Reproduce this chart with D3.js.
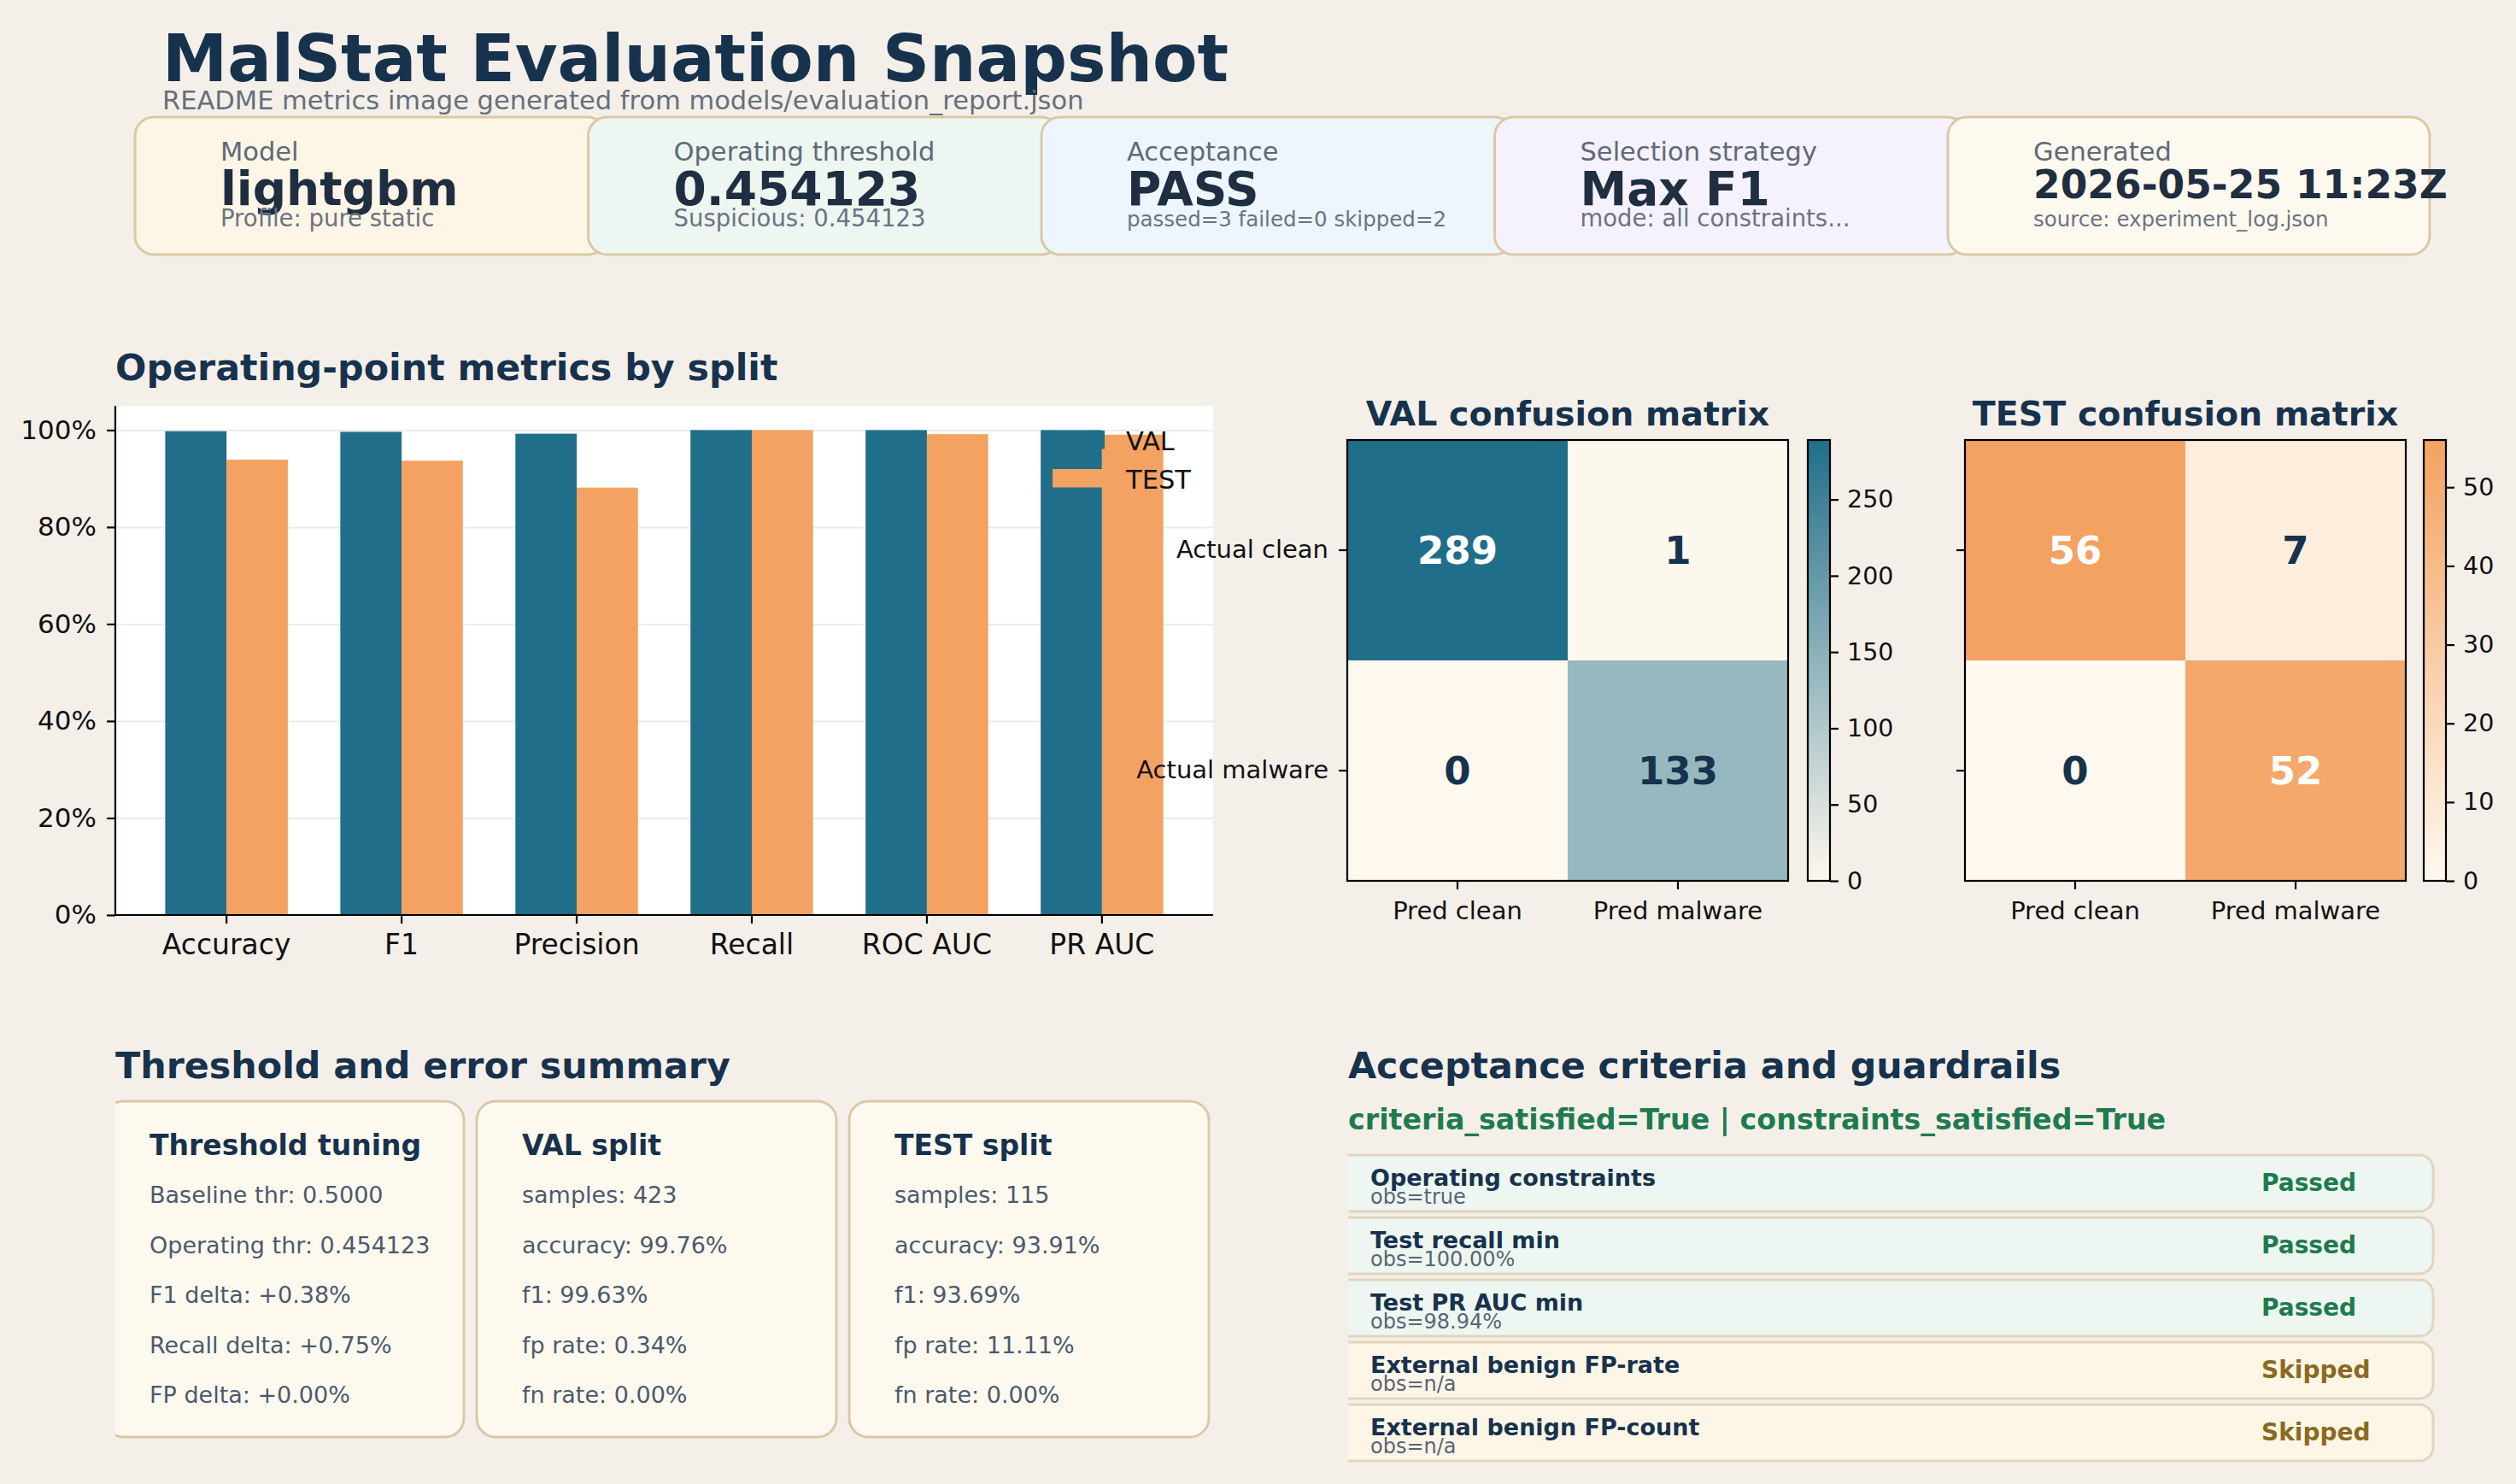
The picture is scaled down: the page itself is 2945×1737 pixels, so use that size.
<!DOCTYPE html>
<html>
<head>
<meta charset="utf-8">
<script src="https://cdn.jsdelivr.net/npm/d3@7"></script>
<style>
	body { margin: 0; background: #f4f0e9; }
	svg { display: block; font-family: "DejaVu Sans", sans-serif; }
</style>
</head>
<body>
<svg id="chart"></svg>
<script>
const metricNames = ['Accuracy', 'F1', 'Precision', 'Recall', 'ROC AUC', 'PR AUC'];
const valScores = [0.9976, 0.9963, 0.9925, 1.0, 1.0, 1.0];
const testScores = [0.9391, 0.9369, 0.8814, 1.0, 0.9915, 0.9905];
const pctTicks = [0, 0.2, 0.4, 0.6, 0.8, 1.0];

const matrixRows = ['Actual clean', 'Actual malware'];
const matrixCols = ['Pred clean', 'Pred malware'];
const valMatrix = [[289, 1], [0, 133]];
const testMatrix = [[56, 7], [0, 52]];
const valBarTicks = [0, 50, 100, 150, 200, 250];
const testBarTicks = [0, 10, 20, 30, 40, 50];

const kpiLabels = ['Model', 'Operating threshold', 'Acceptance', 'Selection strategy', 'Generated'];
const kpiValues = ['lightgbm', '0.454123', 'PASS', 'Max F1', '2026-05-25 11:23Z'];
const kpiSubs = ['Profile: pure static', 'Suspicious: 0.454123', 'passed=3 failed=0 skipped=2',
	'mode: all constraints...', 'source: experiment_log.json'];
const kpiFills = ['#fdf5e6', '#edf6f0', '#edf5fd', '#f5f2fd', '#fdf9ef'];

const summaryTitles = ['Threshold tuning', 'VAL split', 'TEST split'];
const summaryLines = [
	['Baseline thr: 0.5000', 'Operating thr: 0.454123', 'F1 delta: +0.38%', 'Recall delta: +0.75%', 'FP delta: +0.00%'],
	['samples: 423', 'accuracy: 99.76%', 'f1: 99.63%', 'fp rate: 0.34%', 'fn rate: 0.00%'],
	['samples: 115', 'accuracy: 93.91%', 'f1: 93.69%', 'fp rate: 11.11%', 'fn rate: 0.00%']
];

const criteriaNames = ['Operating constraints', 'Test recall min', 'Test PR AUC min',
	'External benign FP-rate', 'External benign FP-count'];
const criteriaObs = ['obs=true', 'obs=100.00%', 'obs=98.94%', 'obs=n/a', 'obs=n/a'];
const criteriaStatus = ['Passed', 'Passed', 'Passed', 'Skipped', 'Skipped'];

// --- palette ---
const NAVY = '#17324d';
const TEAL = '#206e8a';
const ORANGE = '#f3a261';
const CREAM = '#fef8ee';
const BORDER = '#d9c9a6';

const W = 2945, H = 1737;
const svg = d3.select('#chart').attr('width', W).attr('height', H);
svg.append('rect').attr('width', W).attr('height', H).attr('fill', '#f4f0e9');
const defs = svg.append('defs');

// header
svg.append('text').attr('x', 190).attr('y', 95)
	.attr('font-size', 76.5).attr('font-weight', 'bold').attr('fill', NAVY)
	.text('MalStat Evaluation Snapshot');
svg.append('text').attr('x', 190).attr('y', 128)
	.attr('font-size', 30.5).attr('fill', '#676f7c')
	.text('README metrics image generated from models/evaluation_report.json');

// KPI cards (the last one is a touch wider)
kpiLabels.forEach((label, i) => {
	let x0 = 158 + i * 530.5;
	let g = svg.append('g');
	g.append('rect').attr('x', x0).attr('y', 137).attr('width', i === 4 ? 564 : 552).attr('height', 161)
		.attr('rx', 22).attr('fill', kpiFills[i]).attr('stroke', BORDER).attr('stroke-width', 3);
	g.append('text').attr('x', x0 + 100).attr('y', 188)
		.attr('font-size', 30.5).attr('fill', '#5f6a78').text(label);
	let v = kpiValues[i];
	g.append('text').attr('x', x0 + 100).attr('y', v.length > 12 ? 232 : 240)
		.attr('font-size', v.length > 12 ? 45.5 : 55).attr('font-weight', 'bold').attr('fill', '#1f2e40')
		.text(v);
	let s = kpiSubs[i];
	g.append('text').attr('x', x0 + 100).attr('y', 265)
		.attr('font-size', s.length > 24 ? 24.5 : 27.5).attr('fill', '#6b7382').text(s);
});

// ---------- bar chart ----------
const barLeft = 135, barRight = 1420, barTop = 475, barBottom = 1071;

svg.append('text').attr('x', 135).attr('y', 445)
	.attr('font-size', 42.8).attr('font-weight', 'bold').attr('fill', NAVY)
	.text('Operating-point metrics by split');

svg.append('rect').attr('x', barLeft).attr('y', barTop)
	.attr('width', barRight - barLeft).attr('height', barBottom - barTop).attr('fill', '#ffffff');

let x = d3.scaleBand().domain(metricNames).range([barLeft, barRight])
	.paddingInner(0).paddingOuter(0.135);
let y = d3.scaleLinear().domain([0, 1.05]).range([barBottom, barTop]);
let bw = x.bandwidth();

// grid
svg.append('g').attr('transform', `translate(${barLeft},0)`)
	.call(d3.axisLeft(y).tickValues(pctTicks).tickSize(-(barRight - barLeft)).tickFormat(''))
	.call(g => g.select('.domain').remove())
	.call(g => g.selectAll('line').attr('stroke', '#ebebeb').attr('stroke-width', 2));

let groups = svg.append('g').selectAll('g')
	.data(metricNames).enter().append('g');
groups.append('rect')
	.attr('x', d => x(d) + bw / 2 - 0.35 * bw)
	.attr('y', (d, i) => y(valScores[i]))
	.attr('width', 0.35 * bw)
	.attr('height', (d, i) => barBottom - y(valScores[i]))
	.attr('fill', TEAL);
groups.append('rect')
	.attr('x', d => x(d) + bw / 2)
	.attr('y', (d, i) => y(testScores[i]))
	.attr('width', 0.35 * bw)
	.attr('height', (d, i) => barBottom - y(testScores[i]))
	.attr('fill', ORANGE);

// only left and bottom spines
let yAxis = svg.append('g').attr('transform', `translate(${barLeft},0)`)
	.call(d3.axisLeft(y).tickValues(pctTicks).tickFormat(d3.format('.0%')).tickSize(10).tickPadding(12));
yAxis.select('.domain').attr('d', `M0,${barBottom}V${barTop}`);
let xAxis = svg.append('g').attr('transform', `translate(0,${barBottom})`)
	.call(d3.axisBottom(x).tickSize(10).tickPadding(13));
xAxis.select('.domain').attr('d', `M${barLeft},0H${barRight}`);
[yAxis, xAxis].forEach(a => {
	a.selectAll('.domain, line').attr('stroke', '#000').attr('stroke-width', 2.2);
	a.selectAll('text').attr('fill', '#111').attr('font-family', '"DejaVu Sans", sans-serif');
});
yAxis.selectAll('text').attr('font-size', 31);
xAxis.selectAll('text').attr('font-size', 33);

// legend (no frame)
[['VAL', TEAL, 504], ['TEST', ORANGE, 549]].forEach(([name, col, ty]) => {
	svg.append('rect').attr('x', 1232).attr('y', ty).attr('width', 61).attr('height', 21.5).attr('fill', col);
	svg.append('text').attr('x', 1318).attr('y', ty + 23).attr('font-size', 30.5).attr('fill', '#111').text(name);
});

// ---------- confusion matrices ----------
function drawMatrix(opts) {
	let { left, title, matrix, hi, ticks, barX, showLabels } = opts;
	let top = 515, size = 516;
	let vmax = d3.max(matrix.flat());
	let color = d3.scaleLinear().domain([0, vmax]).range([CREAM, hi]);
	let cx = d3.scaleBand().domain(matrixCols).range([left, left + size]);
	let cy = d3.scaleBand().domain(matrixRows).range([top, top + size]);

	svg.append('text').attr('x', left + size / 2).attr('y', 498).attr('text-anchor', 'middle')
		.attr('font-size', 39.5).attr('font-weight', 'bold').attr('fill', NAVY).text(title);

	let cells = [];
	matrixRows.forEach((r, ri) => matrixCols.forEach((c, ci) => cells.push({ r, c, v: matrix[ri][ci] })));
	let g = svg.append('g');
	g.selectAll('rect').data(cells).enter().append('rect')
		.attr('x', d => cx(d.c)).attr('y', d => cy(d.r))
		.attr('width', cx.bandwidth()).attr('height', cy.bandwidth())
		.attr('fill', d => color(d.v));
	g.selectAll('text').data(cells).enter().append('text')
		.attr('x', d => cx(d.c) + cx.bandwidth() / 2)
		.attr('y', d => cy(d.r) + cy.bandwidth() / 2)
		.attr('dy', '0.36em').attr('text-anchor', 'middle')
		.attr('font-size', 45).attr('font-weight', 'bold')
		.attr('fill', d => d.v > vmax / 2 ? '#ffffff' : NAVY)
		.text(d => d.v);
	svg.append('rect').attr('x', left).attr('y', top).attr('width', size).attr('height', size)
		.attr('fill', 'none').attr('stroke', '#000').attr('stroke-width', 2.2);

	let ax = svg.append('g').attr('transform', `translate(0,${top + size})`)
		.call(d3.axisBottom(cx).tickSize(10).tickPadding(14));
	let ay = svg.append('g').attr('transform', `translate(${left},0)`)
		.call(d3.axisLeft(cy).tickSize(10).tickPadding(12).tickFormat(d => showLabels ? d : ''));
	[ax, ay].forEach(a => {
		a.select('.domain').remove();
		a.selectAll('line').attr('stroke', '#000').attr('stroke-width', 2.2);
		a.selectAll('text').attr('font-size', 29).attr('fill', '#111')
			.attr('font-family', '"DejaVu Sans", sans-serif');
	});

	// colorbar
	let gid = 'grad' + left;
	let grad = defs.append('linearGradient').attr('id', gid)
		.attr('x1', 0).attr('y1', 1).attr('x2', 0).attr('y2', 0);
	grad.append('stop').attr('offset', 0).attr('stop-color', color(0));
	grad.append('stop').attr('offset', 1).attr('stop-color', color(vmax));
	svg.append('rect').attr('x', barX).attr('y', top).attr('width', 26).attr('height', size)
		.attr('fill', `url(#${gid})`).attr('stroke', '#000').attr('stroke-width', 2.2);
	let cs = d3.scaleLinear().domain([0, vmax]).range([top + size, top]);
	let ca = svg.append('g').attr('transform', `translate(${barX + 26},0)`)
		.call(d3.axisRight(cs).tickValues(ticks).tickSize(10).tickPadding(10));
	ca.select('.domain').remove();
	ca.selectAll('line').attr('stroke', '#000').attr('stroke-width', 2.2);
	ca.selectAll('text').attr('font-size', 28.5).attr('fill', '#111')
		.attr('font-family', '"DejaVu Sans", sans-serif');
}

drawMatrix({ left: 1577, title: 'VAL confusion matrix', matrix: valMatrix, hi: TEAL,
	ticks: valBarTicks, barX: 2116, showLabels: true });
drawMatrix({ left: 2300, title: 'TEST confusion matrix', matrix: testMatrix, hi: ORANGE,
	ticks: testBarTicks, barX: 2837, showLabels: false });

// ---------- threshold & error summary ----------
svg.append('text').attr('x', 135).attr('y', 1262)
	.attr('font-size', 42.8).attr('font-weight', 'bold').attr('fill', NAVY)
	.text('Threshold and error summary');

defs.append('clipPath').attr('id', 'clipSummary')
	.append('rect').attr('x', 135).attr('y', 1270).attr('width', 1300).attr('height', 440);
let summary = svg.append('g').attr('clip-path', 'url(#clipSummary)');
summaryTitles.forEach((t, i) => {
	let x0 = 122 + i * 436;
	summary.append('rect').attr('x', x0).attr('y', 1289).attr('width', 421).attr('height', 393)
		.attr('rx', 22).attr('fill', '#fdf9ef').attr('stroke', BORDER).attr('stroke-width', 3);
	summary.append('text').attr('x', x0 + 53).attr('y', 1352)
		.attr('font-size', 33).attr('font-weight', 'bold').attr('fill', NAVY).text(t);
	summary.selectAll(null).data(summaryLines[i]).enter().append('text')
		.attr('x', x0 + 53).attr('y', (d, j) => 1408 + j * 58.5)
		.attr('font-size', 27).attr('fill', '#4b5a6d').text(d => d);
});

// ---------- acceptance criteria ----------
svg.append('text').attr('x', 1578).attr('y', 1262)
	.attr('font-size', 42.8).attr('font-weight', 'bold').attr('fill', NAVY)
	.text('Acceptance criteria and guardrails');
svg.append('text').attr('x', 1578).attr('y', 1322)
	.attr('font-size', 33.3).attr('font-weight', 'bold').attr('fill', '#1e7b4f')
	.text('criteria_satisfied=True | constraints_satisfied=True');

defs.append('clipPath').attr('id', 'clipCriteria')
	.append('rect').attr('x', 1578).attr('y', 1340).attr('width', 1300).attr('height', 390);
let crit = svg.append('g').attr('clip-path', 'url(#clipCriteria)');
criteriaNames.forEach((name, i) => {
	let top = 1352 + i * 73;
	let passed = criteriaStatus[i] === 'Passed';
	crit.append('rect').attr('x', 1560).attr('y', top).attr('width', 1288).attr('height', 66)
		.attr('rx', 16).attr('fill', passed ? '#edf6f0' : '#fdf6e7')
		.attr('stroke', '#e1d5bd').attr('stroke-width', 3);
	crit.append('text').attr('x', 1604).attr('y', top + 36)
		.attr('font-size', 27).attr('font-weight', 'bold').attr('fill', NAVY).text(name);
	crit.append('text').attr('x', 1604).attr('y', top + 57)
		.attr('font-size', 24).attr('fill', '#5a6475').text(criteriaObs[i]);
	crit.append('text').attr('x', 2647).attr('y', top + 42)
		.attr('font-size', 28).attr('font-weight', 'bold')
		.attr('fill', passed ? '#1e7b4f' : '#8a6a1e').text(criteriaStatus[i]);
});
</script>
</body>
</html>
